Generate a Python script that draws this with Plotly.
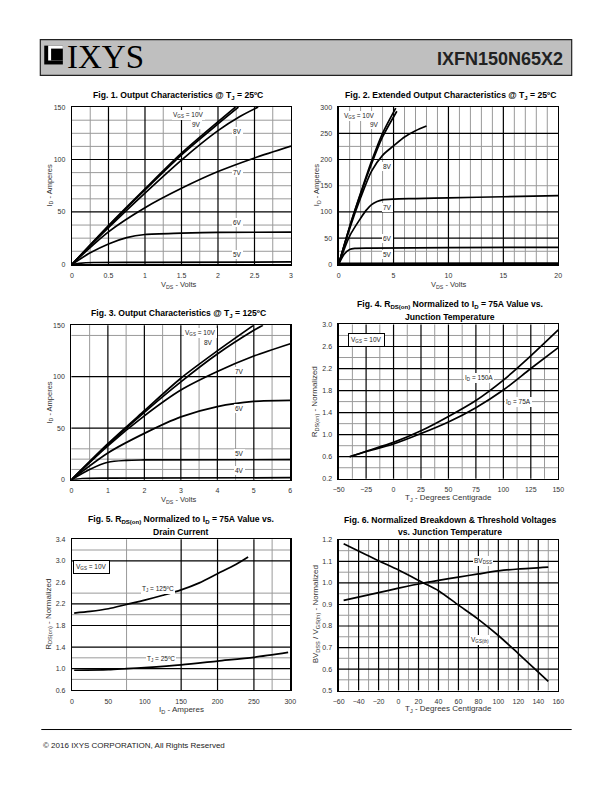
import plotly.graph_objects as go

W, H = 612, 792

# ---------------- data ----------------
# Fig 1: Output characteristics @ 25C (VDS V, ID A)
f1_x = [
    [0, 0.5, 1.0, 1.5, 2.0, 2.24],
    [0, 0.5, 1.0, 1.5, 2.0, 2.28],
    [0, 0.5, 1.0, 1.5, 2.0, 2.3, 2.55],
    [0, 0.5, 1.0, 1.5, 2.0, 2.5, 3.0],
    [0, 0.25, 0.5, 0.75, 1.0, 1.5, 2.0, 3.0],
    [0, 0.1, 0.3, 1.0, 3.0],
]
f1_y = [
    [0, 37, 72, 106, 136, 150],
    [0, 36.5, 71, 104.5, 134, 150],
    [0, 35, 68, 99.5, 127.5, 141, 150],
    [0, 31, 54, 72.5, 88.5, 101.5, 112.8],
    [0, 11, 19.5, 25.5, 28.5, 29.8, 30.5, 30.8],
    [0, 1.0, 1.8, 2.0, 2.3],
]

# Fig 2: Extended output characteristics @ 25C
f2_x = [
    [0, 1, 2, 3, 4, 5.2],
    [0, 1, 2, 3, 4, 5.3],
    [0, 1, 2, 3, 4, 5, 6, 7, 8],
    [0, 1, 2, 2.5, 3, 3.5, 4, 5, 7, 10, 15, 20],
    [0, 0.5, 1, 1.5, 3, 10, 20],
    [0, 0.3, 1, 20],
]
f2_y = [
    [0, 72, 136, 197, 250, 298],
    [0, 71, 134, 192, 243, 292],
    [0, 68, 127, 178, 208, 226, 243, 255, 264],
    [0, 54, 88, 103, 114, 120, 123, 124.5, 125.5, 127, 129, 131],
    [0, 19.5, 28.5, 30.5, 31, 32, 32.5],
    [0, 1.8, 2.0, 2.5],
]

# Fig 3: Output characteristics @ 125C
f3_x = [
    [0, 1, 2, 3, 4, 5],
    [0, 1, 2, 3, 4, 5, 5.25],
    [0, 1, 2, 3, 4, 5, 6],
    [0, 1, 2, 3, 4, 5, 6],
    [0, 0.5, 1, 1.5, 2, 6],
    [0, 0.3, 1, 6],
]
f3_y = [
    [0, 35, 67, 98.5, 125, 150],
    [0, 34, 65.5, 95, 122, 145, 150],
    [0, 33, 62, 87, 105, 120, 132],
    [0, 26, 45, 61, 71, 76, 77],
    [0, 10, 17, 18.8, 19.2, 19.5],
    [0, 1.2, 1.6, 2.0],
]

# Fig 4: RDS(on) normalized vs TJ
f4_t = [-40, -25, 0, 25, 50, 75, 100, 125, 150]
f4_id150 = [0.60, 0.70, 0.86, 1.07, 1.33, 1.62, 1.99, 2.43, 2.90]
f4_id75 = [0.60, 0.69, 0.83, 1.02, 1.23, 1.49, 1.81, 2.20, 2.58]

# Fig 5: RDS(on) normalized vs ID
f5_id_125 = [3, 25, 50, 75, 100, 125, 150, 175, 200, 225, 242]
f5_r_125 = [2.03, 2.06, 2.11, 2.19, 2.27, 2.36, 2.46, 2.59, 2.76, 2.93, 3.07]
f5_id_25 = [3, 50, 75, 100, 150, 200, 250, 297]
f5_r_25 = [0.97, 0.98, 1.00, 1.02, 1.07, 1.14, 1.21, 1.30]

# Fig 6: normalized BVDSS and VGS(th) vs TJ
f6_t = [-55, -20, 0, 25, 40, 60, 80, 100, 120, 150]
f6_bv = [0.919, 0.955, 0.976, 1.0, 1.012, 1.027, 1.042, 1.056, 1.065, 1.074]
f6_vth = [1.182, 1.103, 1.06, 1.0, 0.964, 0.897, 0.831, 0.756, 0.672, 0.543]

# tick values
f1_xt = [0, 0.5, 1, 1.5, 2, 2.5, 3]
f1_yt = [0, 50, 100, 150]
f2_xt = [0, 5, 10, 15, 20]
f2_yt = [0, 50, 100, 150, 200, 250, 300]
f3_xt = [0, 1, 2, 3, 4, 5, 6]
f3_yt = [0, 50, 100, 150]
f4_xt = [-50, -25, 0, 25, 50, 75, 100, 125, 150]
f4_yt = [0.2, 0.6, 1.0, 1.4, 1.8, 2.2, 2.6, 3.0]
f5_xt = [0, 50, 100, 150, 200, 250, 300]
f5_yt = [0.6, 1.0, 1.4, 1.8, 2.2, 2.6, 3.0, 3.4]
f6_xt = [-60, -40, -20, 0, 20, 40, 60, 80, 100, 120, 140, 160]
f6_yt = [0.5, 0.6, 0.7, 0.8, 0.9, 1.0, 1.1, 1.2]

# grid lines (major = black, minor = gray)
g1 = dict(vb=[0.5, 1, 1.5, 2, 2.5], vg=[0.25, 0.75, 1.25, 1.75, 2.25, 2.75],
          hb=[50, 100], hg=[12.5, 25, 37.5, 62.5, 75, 87.5, 112.5, 125, 137.5])
g2 = dict(vb=[5, 10, 15], vg=[1, 2, 3, 4, 6, 7, 8, 9, 11, 12, 13, 14, 16, 17, 18, 19],
          hb=[50, 100, 200, 250], hg=[25, 75, 150, 225])
g3 = dict(vb=[1, 2, 3, 4, 5], vg=[0.5, 1.5, 2.5, 3.5, 4.5, 5.5],
          hb=[50, 100], hg=[10, 20, 30, 140])
g4 = dict(vb=[-25, 0, 25, 50, 75, 100, 125], vg=[-37.5, -12.5, 12.5, 37.5, 62.5, 87.5, 112.5, 137.5],
          hb=[0.6, 1.0, 1.4, 1.8, 2.2, 2.6], hg=[0.4, 0.8, 1.2, 1.6, 2.0, 2.4, 2.8])
g5 = dict(vb=[150, 200, 250], vg=[75, 275],
          hb=[1.0, 1.4, 1.8, 2.2, 3.0], hg=[0.8, 1.2, 2.0, 2.4, 3.2])
g6 = dict(vb=[-40, -20, 0, 20, 40, 60, 80, 100, 120, 140],
          vg=[-50, -30, -10, 10, 30, 50, 70, 90, 110, 130, 150],
          hb=[0.6, 0.7, 0.8, 0.9, 1.0, 1.1],
          hg=[0.55, 0.65, 0.75, 0.85, 0.95, 1.05, 1.15])

# ---------------- layout helpers ----------------
SANS = "Liberation Sans, Arial, sans-serif"
TITLE_SIZE = 8.6

def px(x):
    return x / W

def py(y):
    return 1 - y / H

panels = [
    dict(xd=(67.3, 290.7), yd=(104, 262.7), xr=[0, 3], yr=[0, 150], xt=f1_xt, yt=f1_yt, g=g1, xf="", yf=""),
    dict(xd=(339.3, 563.3), yd=(104, 262.7), xr=[0, 20], yr=[0, 300], xt=f2_xt, yt=f2_yt, g=g2, xf="", yf=""),
    dict(xd=(66.7, 290.0), yd=(324, 480), xr=[0, 6], yr=[0, 150], xt=f3_xt, yt=f3_yt, g=g3, xf="", yf=""),
    dict(xd=(339.3, 563.3), yd=(323.3, 479), xr=[-50, 150], yr=[0.2, 3.0], xt=f4_xt, yt=f4_yt, g=g4, xf="", yf=".1f"),
    dict(xd=(67.3, 290.0), yd=(540, 692.3), xr=[0, 300], yr=[0.6, 3.4], xt=f5_xt, yt=f5_yt, g=g5, xf="", yf=".1f"),
    dict(xd=(339.3, 563.3), yd=(540.7, 692.7), xr=[-60, 160], yr=[0.5, 1.2], xt=f6_xt, yt=f6_yt, g=g6, xf="", yf=".1f"),
]

fig = go.Figure()
layout = dict(width=W, height=H, margin=dict(l=0, r=0, t=0, b=0), autosize=False,
              paper_bgcolor="white", plot_bgcolor="white", showlegend=False)
shapes = []
annotations = []

for i, p in enumerate(panels, start=1):
    xa = "xaxis" if i == 1 else f"xaxis{i}"
    ya = "yaxis" if i == 1 else f"yaxis{i}"
    xr_ = "x" if i == 1 else f"x{i}"
    yr_ = "y" if i == 1 else f"y{i}"
    layout[xa] = dict(domain=[px(p["xd"][0]), px(p["xd"][1])], range=p["xr"], anchor=yr_,
                      tickmode="array", tickvals=p["xt"], tickformat=p["xf"],
                      showgrid=False, zeroline=False, showline=True, linecolor="black",
                      linewidth=1.2, mirror=True, ticks="outside", ticklen=4,
                      tickcolor="rgba(0,0,0,0)", fixedrange=True,
                      tickfont=dict(family=SANS, size=7, color="#333"))
    layout[ya] = dict(domain=[py(p["yd"][1]), py(p["yd"][0])], range=p["yr"], anchor=xr_,
                      tickmode="array", tickvals=p["yt"], tickformat=p["yf"],
                      showgrid=False, zeroline=False, showline=True, linecolor="black",
                      linewidth=1.2, mirror=True, ticks="outside", ticklen=4,
                      tickcolor="rgba(0,0,0,0)", fixedrange=True,
                      tickfont=dict(family=SANS, size=7, color="#333"))
    g = p["g"]
    for v in g["vg"]:
        shapes.append(dict(type="line", xref=xr_, yref=f"{yr_} domain", x0=v, x1=v, y0=0, y1=1,
                           line=dict(color="#9a9a9a", width=1), layer="below"))
    for v in g["hg"]:
        shapes.append(dict(type="line", xref=f"{xr_} domain", yref=yr_, x0=0, x1=1, y0=v, y1=v,
                           line=dict(color="#9a9a9a", width=1), layer="below"))
    for v in g["vb"]:
        shapes.append(dict(type="line", xref=xr_, yref=f"{yr_} domain", x0=v, x1=v, y0=0, y1=1,
                           line=dict(color="black", width=1.2), layer="below"))
    for v in g["hb"]:
        shapes.append(dict(type="line", xref=f"{xr_} domain", yref=yr_, x0=0, x1=1, y0=v, y1=v,
                           line=dict(color="black", width=1.2), layer="below"))


def add_curve(xs, ys, i):
    fig.add_trace(go.Scatter(x=xs, y=ys, mode="lines",
                             line=dict(color="black", width=1.7, shape="spline", smoothing=0.8),
                             xaxis="x" if i == 1 else f"x{i}", yaxis="y" if i == 1 else f"y{i}",
                             hoverinfo="skip"))

for xs, ys in zip(f1_x, f1_y):
    add_curve(xs, ys, 1)
for xs, ys in zip(f2_x, f2_y):
    add_curve(xs, ys, 2)
for xs, ys in zip(f3_x, f3_y):
    add_curve(xs, ys, 3)
add_curve(f4_t, f4_id150, 4)
add_curve(f4_t, f4_id75, 4)
add_curve(f5_id_125, f5_r_125, 5)
add_curve(f5_id_25, f5_r_25, 5)
add_curve(f6_t, f6_bv, 6)
add_curve(f6_t, f6_vth, 6)


def lab(text, x, y, i, size=6.5, box=False, bg=True, xanchor="center"):
    annotations.append(dict(text=text, x=x, y=y, xref="x" if i == 1 else f"x{i}",
                            yref="y" if i == 1 else f"y{i}", showarrow=False,
                            xanchor=xanchor, yanchor="middle",
                            font=dict(family=SANS, size=size, color="#222"),
                            bgcolor="white" if bg else None,
                            bordercolor="black" if box else None,
                            borderwidth=1 if box else 0, borderpad=2 if box else 1))

# curve labels
lab("V<sub>GS</sub> = 10V", 1.6, 142, 1)
lab("9V", 1.71, 133, 1)
lab("8V", 2.27, 127, 1)
lab("7V", 2.27, 88, 1)
lab("6V", 2.27, 39.5, 1)
lab("5V", 2.27, 9.5, 1)

lab("V<sub>GS</sub> = 10V", 1.9, 283, 2)
lab("9V", 3.3, 267, 2)
lab("8V", 4.45, 186, 2)
lab("7V", 4.45, 109, 2)
lab("6V", 4.45, 49, 2)
lab("5V", 4.45, 19, 2)

lab("V<sub>GS</sub> = 10V", 3.55, 142, 3)
lab("8V", 3.75, 133, 3)
lab("7V", 4.62, 105, 3)
lab("6V", 4.62, 69, 3)
lab("5V", 4.62, 25.5, 3)
lab("4V", 4.62, 9, 3)

lab("V<sub>GS</sub> = 10V", -25, 2.71, 4, box=True)
lab("I<sub>D</sub> = 150A", 78, 2.02, 4)
lab("I<sub>D</sub> = 75A", 114, 1.59, 4)

lab("V<sub>GS</sub> = 10V", 27, 2.88, 5, box=True)
lab("T<sub>J</sub> = 125ºC", 118, 2.48, 5)
lab("T<sub>J</sub> = 25ºC", 122, 1.18, 5)

lab("BV<sub>DSS</sub>", 85, 1.1, 6)
lab("V<sub>GS(th)</sub>", 82, 0.735, 6)

# titles
def paper_text(text, x, y, size, family=SANS, bold=False, angle=0, xanchor="center", color="black"):
    annotations.append(dict(text=(f"<b>{text}</b>" if bold else text), x=px(x), y=py(y),
                            xref="paper", yref="paper", showarrow=False, xanchor=xanchor,
                            yanchor="middle", textangle=angle,
                            font=dict(family=family, size=size, color=color)))

paper_text("Fig. 1. Output Characteristics @ T<sub>J</sub> = 25ºC", 175, 92, TITLE_SIZE, SANS, True)
paper_text("Fig. 2. Extended Output Characteristics @ T<sub>J</sub> = 25ºC", 453, 92, TITLE_SIZE, SANS, True)
paper_text("Fig. 3. Output Characteristics @ T<sub>J</sub> = 125ºC", 176, 312, TITLE_SIZE, SANS, True)
paper_text("Fig. 4. R<sub>DS(on)</sub> Normalized to I<sub>D</sub> = 75A Value vs.", 453, 303, TITLE_SIZE, SANS, True)
paper_text("Junction Temperature", 453, 316, TITLE_SIZE, SANS, True)
paper_text("Fig. 5. R<sub>DS(on)</sub> Normalized to I<sub>D</sub> = 75A Value vs.", 179, 520, TITLE_SIZE, SANS, True)
paper_text("Drain Current", 179, 533, TITLE_SIZE, SANS, True)
paper_text("Fig. 6. Normalized Breakdown &amp; Threshold Voltages", 453, 521, TITLE_SIZE, SANS, True)
paper_text("vs. Junction Temperature", 453, 533, TITLE_SIZE, SANS, True)

# axis titles
paper_text("V<sub>DS</sub> - Volts", 176, 284, 7.5, color="#333")
paper_text("V<sub>DS</sub> - Volts", 451, 284, 7.5, color="#333")
paper_text("V<sub>DS</sub> - Volts", 176, 500, 7.5, color="#333")
paper_text("T<sub>J</sub> - Degrees Centigrade", 451, 498, 8, color="#333")
paper_text("I<sub>D</sub> - Amperes", 179, 712, 8, color="#333")
paper_text("T<sub>J</sub> - Degrees Centigrade", 451, 711, 8, color="#333")

paper_text("I<sub>D</sub> - Amperes", 45, 183, 7.5, angle=-90, color="#333")
paper_text("I<sub>D</sub> - Amperes", 318, 183, 7.5, angle=-90, color="#333")
paper_text("I<sub>D</sub> - Amperes", 45, 402, 7.5, angle=-90, color="#333")
paper_text("R<sub>DS(on)</sub> - Normalized", 316, 401, 8, angle=-90, color="#333")
paper_text("R<sub>DS(on)</sub> - Normalized", 43, 616, 8, angle=-90, color="#333")
paper_text("BV<sub>DSS</sub> / V<sub>GS(th)</sub> - Normalized", 316, 616, 8, angle=-90, color="#333")

# header
shapes.append(dict(type="rect", xref="paper", yref="paper", x0=px(35), x1=px(577), y0=py(72), y1=py(36),
                   fillcolor="#bfbfbf", line=dict(color="#222", width=1.2), layer="below"))
shapes.append(dict(type="rect", xref="paper", yref="paper", x0=px(39), x1=px(58), y0=py(61), y1=py(42),
                   fillcolor="black", line=dict(width=0)))
shapes.append(dict(type="rect", xref="paper", yref="paper", x0=px(43), x1=px(58), y0=py(57), y1=py(42),
                   fillcolor="white", line=dict(width=0)))
shapes.append(dict(type="rect", xref="paper", yref="paper", x0=px(46), x1=px(58), y0=py(57), y1=py(45),
                   fillcolor="black", line=dict(width=0)))
paper_text("IXYS", 60, 53, 33, "Liberation Serif, DejaVu Serif, serif", False, xanchor="left")
paper_text("IXFN150N65X2", 570, 55, 18, SANS, True, xanchor="right", color="#222")

# footer
shapes.append(dict(type="line", xref="paper", yref="paper", x0=px(36), x1=px(577), y0=py(732), y1=py(732),
                   line=dict(color="black", width=1)))
paper_text("© 2016 IXYS CORPORATION, All Rights Reserved", 36, 748, 8, SANS, xanchor="left", color="#222")

layout["shapes"] = shapes
layout["annotations"] = annotations
fig.update_layout(**layout)
fig.write_html("out.html", config={"displayModeBar": False, "staticPlot": True},
               post_script="document.body.style.margin='0';document.body.style.overflow='hidden';")
